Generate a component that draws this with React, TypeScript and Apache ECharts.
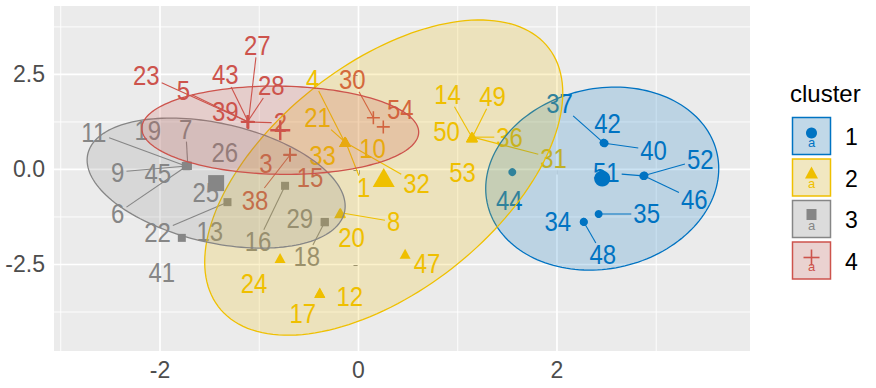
import { useEffect, useRef } from "react";
import * as echarts from "echarts";

// ---- data -----------------------------------------------------------------
const clusterNames = ["1", "2", "3", "4"];
const clusterColors = ["#0073C2", "#EFC000", "#868686", "#CD534C"];

// observation ids with their scores on the first two dimensions and cluster
const obsIds = [
  1, 2, 3, 4, 5, 6, 7, 8, 9, 10, 11, 12, 13, 14, 15, 16, 17, 18, 19, 20, 21, 22, 23, 24, 25, 26, 27,
  28, 29, 30, 31, 32, 33, 34, 35, 36, 37, 38, 39, 40, 41, 42, 43, 44, 45, 46, 47, 48, 49, 50, 51, 52,
  53, 54,
];
const dim1 = [
  -0.13, -1.11, -0.69, -0.14, -1.12, -1.73, -1.72, -0.18, -1.73, -0.13,
  -1.74, -0.39, -1.78, 1.14, -0.69, -0.74, -0.39, -0.34, -1.73, -0.19,
  -0.14, -1.32, -1.11, -0.79, -1.72, -1.73, -1.11, -1.12, -0.34, 0.15,
  1.15, -0.14, -0.13, 2.27, 2.42, 1.14, 2.47, -0.69, -1.11, 2.48,
  -1.73, 2.47, -1.11, 1.55, -1.73, 2.88, 0.47, 2.27, 1.15, 1.14,
  2.87, 2.88, 1.14, 0.25,
];
const dim2 = [
  0.73, 1.25, 0.38, 0.72, 1.26, 0.09, 0.1, -1.14, 0.09, 0.72,
  0.09, -3.25, -1.8, 0.86, 0.39, -0.43, -3.24, -1.38, 0.1, -1.15,
  0.73, -0.86, 1.25, -2.33, 0.09, 0.09, 1.24, 1.25, -1.39, 1.36,
  0.85, 0.72, 0.73, -1.38, -1.17, 0.85, 0.7, 0.38, 1.25, 0.69,
  0.09, 0.7, 1.25, -0.07, 0.09, -0.17, -2.22, -1.38, 0.86, 0.85,
  -0.17, -0.16, 0.85, 1.12,
];
const clusterOf = [
  2, 4, 4, 2, 4, 3, 3, 2, 3, 2,
  3, 2, 3, 2, 4, 3, 2, 3, 3, 2,
  2, 3, 4, 2, 3, 3, 4, 4, 3, 4,
  2, 2, 2, 1, 1, 2, 1, 4, 4, 1,
  3, 1, 4, 1, 3, 1, 2, 1, 2, 2,
  1, 1, 2, 4,
];

const xTicks = [-2, 0, 2];
const yTicks = [-2.5, 0, 2.5];
const xMinorGrid = [-3, -1, 1, 3];
const yMinorGrid = [-3.75, -1.25, 1.25, 3.75];

// confidence ellipses: two conjugate semi-diameters per cluster (axis units)
const ellipseU = [
  [1.174, 0.263],
  [1.804, 2.224],
  [1.3, -0.605],
  [1.395, -0.05],
];
const ellipseV = [
  [0, 2.393],
  [0, 3.5],
  [0, 1.6],
  [0, 1.16],
];

// ---- layout -----------------------------------------------------------------
// repelled label placement: pixel offset of each label from its point, 1 = leader segment
const labelLayout: [number, number, number][] = [
  [18, 46, 1], [32, 1, 1], [-24, 8, 0], [-32, -63, 1], [-64, -31, 1],
  [-69, 47, 1], [-2, -36, 1], [53, 9, 1], [-69, 6, 1], [27, 6, 0],
  [-92, -34, 1], [30, 4, 0], [28, -6, 0], [-24, -42, 1], [20, 23, 0],
  [-27, 56, 1], [-17, 21, 0], [-18, 35, 1], [-39, -35, 0], [12, 24, 0],
  [-27, -24, 1], [-70, 30, 1], [-102, -46, 1], [-26, 25, 0], [18, 26, 0],
  [38, -14, 0], [9, -77, 1], [24, -36, 1], [-25, -4, 0], [-21, -38, 1],
  [81, 21, 1], [72, 41, 1], [-23, 14, 0], [-26, 0, 0], [48, 0, 1],
  [38, 0, 1], [-44, -39, 1], [-35, 45, 1], [-23, -10, 0], [49, 7, 1],
  [-25, 106, 0], [4, -19, 0], [-23, -47, 1], [-3, 28, 0], [-29, 7, 0],
  [50, 24, 1], [22, 10, 0], [19, 33, 1], [20, -40, 1], [-25, -6, 0],
  [-37, -3, 1], [56, -16, 1], [-9, 35, 0], [17, -17, 0],
];

const FONT = '"Liberation Sans", Arial, Helvetica, sans-serif';
const X_MIN = -3.068;
const X_MAX = 3.945;
const Y_MIN = -4.776;
const Y_MAX = 4.3;
const LABEL_SIZE = 24;
const LABEL_STRETCH = 1.12;

const PLUS =
  "path://M4.4,0H5.6V4.4H10V5.6H5.6V10H4.4V5.6H0V4.4H4.4Z";
const pointSymbols = ["circle", "triangle", "rect", PLUS];
const pointSizes: any[] = [8, [11, 10], 8, 13];
const centroidSizes: any[] = [16, [22, 19], 16, 20];

function rgba(hex: string, a: number) {
  const v = parseInt(hex.slice(1), 16);
  return `rgba(${(v >> 16) & 255},${(v >> 8) & 255},${v & 255},${a})`;
}

function buildOption() {
  const centroids = clusterNames.map((_, k) => {
    let sx = 0;
    let sy = 0;
    let c = 0;
    obsIds.forEach((_, i) => {
      if (clusterOf[i] === k + 1) {
        sx += dim1[i];
        sy += dim2[i];
        c++;
      }
    });
    return [sx / c, sy / c];
  });

  const gridLines = [
    ...xMinorGrid.map((v) => [v, 0, 0]),
    ...yMinorGrid.map((v) => [v, 1, 0]),
    ...xTicks.map((v) => [v, 0, 1]),
    ...yTicks.map((v) => [v, 1, 1]),
  ];

  const series: any[] = [];

  series.push({
    type: "custom",
    z: 1,
    silent: true,
    data: gridLines,
    renderItem: (_p: any, api: any) => {
      const v = api.value(0);
      const horiz = api.value(1) === 1;
      const major = api.value(2) === 1;
      const a = horiz ? api.coord([X_MIN, v]) : api.coord([v, Y_MIN]);
      const b = horiz ? api.coord([X_MAX, v]) : api.coord([v, Y_MAX]);
      return {
        type: "line",
        shape: { x1: a[0], y1: a[1], x2: b[0], y2: b[1] },
        style: { stroke: "#FFFFFF", lineWidth: major ? 1.7 : 0.9 },
      };
    },
  });

  clusterNames.forEach((name, k) => {
    series.push({
      type: "scatter",
      name,
      z: 2,
      symbol: pointSymbols[k],
      symbolSize: pointSizes[k],
      itemStyle: { color: clusterColors[k], opacity: 1 },
      data: obsIds
        .map((_, i) => i)
        .filter((i) => clusterOf[i] === k + 1)
        .map((i) => [dim1[i], dim2[i]]),
    });
  });

  series.push({
    type: "custom",
    z: 3,
    silent: true,
    data: obsIds.map((id, i) => [
      dim1[i],
      dim2[i],
      id,
      labelLayout[i][0],
      labelLayout[i][1],
      labelLayout[i][2],
      clusterOf[i],
    ]),
    renderItem: (_p: any, api: any) => {
      const p = api.coord([api.value(0), api.value(1)]);
      const txt = String(api.value(2));
      const lx = p[0] + api.value(3);
      const ly = p[1] + api.value(4);
      const color = clusterColors[api.value(6) - 1];
      const children: any[] = [];
      if (api.value(5) === 1) {
        const hw = (0.556 * LABEL_SIZE * txt.length) / 2 + 2;
        const hh = LABEL_SIZE * 0.5;
        const vx = p[0] - lx;
        const vy = p[1] - ly;
        let t = Infinity;
        if (vx !== 0) t = Math.min(t, hw / Math.abs(vx));
        if (vy !== 0) t = Math.min(t, hh / Math.abs(vy));
        if (t < 1) {
          children.push({
            type: "line",
            shape: { x1: p[0], y1: p[1], x2: lx + vx * t, y2: ly + vy * t },
            style: { stroke: color, lineWidth: 1.1 },
          });
        }
      }
      children.push({
        type: "text",
        x: lx,
        y: ly,
        scaleY: LABEL_STRETCH,
        style: {
          text: txt,
          fill: color,
          fontSize: LABEL_SIZE,
          fontFamily: FONT,
          align: "center",
          verticalAlign: "middle",
        },
      });
      return { type: "group", children };
    },
  });

  series.push({
    type: "custom",
    z: 4,
    silent: true,
    data: centroids.map((c, k) => [c[0], c[1], k]),
    renderItem: (_p: any, api: any) => {
      const k = api.value(2);
      const cx = api.value(0);
      const cy = api.value(1);
      const u = ellipseU[k];
      const v = ellipseV[k];
      const pts: number[][] = [];
      const steps = 160;
      for (let s = 0; s <= steps; s++) {
        const t = (s / steps) * Math.PI * 2;
        const c = Math.cos(t);
        const si = Math.sin(t);
        pts.push(api.coord([cx + u[0] * c + v[0] * si, cy + u[1] * c + v[1] * si]));
      }
      return {
        type: "polygon",
        shape: { points: pts },
        style: {
          fill: rgba(clusterColors[k], 0.2),
          stroke: clusterColors[k],
          lineWidth: 1.3,
        },
      };
    },
  });

  clusterNames.forEach((name, k) => {
    series.push({
      type: "scatter",
      name: name + "-centre",
      z: 5,
      symbol: pointSymbols[k],
      symbolSize: centroidSizes[k],
      itemStyle: { color: clusterColors[k], opacity: 1 },
      data: [centroids[k]],
    });
  });

  // legend drawn as keys: polygon swatch, point glyph and text glyph
  const graphic: any[] = [
    {
      type: "text",
      x: 790,
      y: 93,
      style: {
        text: "cluster",
        fontSize: 24,
        fontFamily: FONT,
        fill: "#000000",
        verticalAlign: "middle",
      },
    },
  ];
  clusterNames.forEach((name, k) => {
    const cy = 136 + k * 41.5;
    const cx = 811.5;
    const color = clusterColors[k];
    graphic.push({
      type: "rect",
      shape: { x: 792.5, y: cy - 18.5, width: 38, height: 37 },
      style: { fill: "#F2F2F2" },
    });
    let marker: any;
    if (k === 0) {
      marker = { type: "circle", shape: { cx, cy: cy - 3, r: 5.5 }, style: { fill: color } };
    } else if (k === 1) {
      marker = {
        type: "polygon",
        shape: { points: [[cx, cy - 11], [cx - 6.5, cy + 1], [cx + 6.5, cy + 1]] },
        style: { fill: color },
      };
    } else if (k === 2) {
      marker = { type: "rect", shape: { x: cx - 5, y: cy - 10, width: 10, height: 11 }, style: { fill: color } };
    } else {
      marker = {
        type: "group",
        children: [
          { type: "line", shape: { x1: cx - 8, y1: cy - 3, x2: cx + 8, y2: cy - 3 }, style: { stroke: color, lineWidth: 1.6 } },
          { type: "line", shape: { x1: cx, y1: cy - 11, x2: cx, y2: cy + 5 }, style: { stroke: color, lineWidth: 1.6 } },
        ],
      };
    }
    graphic.push(marker);
    graphic.push({
      type: "text",
      x: cx,
      y: cy + 6,
      style: {
        text: "a",
        fontSize: 13,
        fontFamily: FONT,
        fill: color,
        align: "center",
        verticalAlign: "middle",
      },
    });
    graphic.push({
      type: "rect",
      shape: { x: 792.5, y: cy - 18.5, width: 38, height: 37 },
      style: { fill: rgba(color, 0.2), stroke: color, lineWidth: 1.5 },
    });
    graphic.push({
      type: "text",
      x: 845,
      y: cy + 1,
      style: {
        text: name,
        fontSize: 23,
        fontFamily: FONT,
        fill: "#000000",
        verticalAlign: "middle",
      },
    });
  });

  return {
    animation: false,
    backgroundColor: "#FFFFFF",
    grid: {
      left: 54,
      right: 126,
      top: 6,
      bottom: 37,
      show: true,
      backgroundColor: "#EBEBEB",
      borderWidth: 0,
    },
    xAxis: {
      type: "value",
      min: X_MIN,
      max: X_MAX,
      axisLine: { show: false },
      splitLine: { show: false },
      axisTick: {
        show: true,
        customValues: xTicks,
        length: 5,
        lineStyle: { color: "#333333", width: 1.5 },
      },
      axisLabel: {
        customValues: xTicks,
        color: "#4D4D4D",
        fontSize: 23,
        fontFamily: FONT,
        margin: 7,
        formatter: (v: number) => String(v),
      },
    },
    yAxis: {
      type: "value",
      min: Y_MIN,
      max: Y_MAX,
      axisLine: { show: false },
      splitLine: { show: false },
      axisTick: {
        show: true,
        customValues: yTicks,
        length: 5,
        lineStyle: { color: "#333333", width: 1.5 },
      },
      axisLabel: {
        customValues: yTicks,
        color: "#4D4D4D",
        fontSize: 23,
        fontFamily: FONT,
        margin: 9,
        formatter: (v: number) => v.toFixed(1),
      },
    },
    series,
    graphic,
  };
}

export default function App() {
  const ref = useRef<HTMLDivElement>(null);
  useEffect(() => {
    if (!ref.current) return;
    const chart = echarts.init(ref.current, null, { renderer: "svg" });
    chart.setOption(buildOption() as any);
    return () => chart.dispose();
  }, []);
  return (
    <div
      ref={ref}
      style={{ position: "fixed", left: 0, top: 0, width: 876, height: 388, background: "#FFFFFF" }}
    />
  );
}
